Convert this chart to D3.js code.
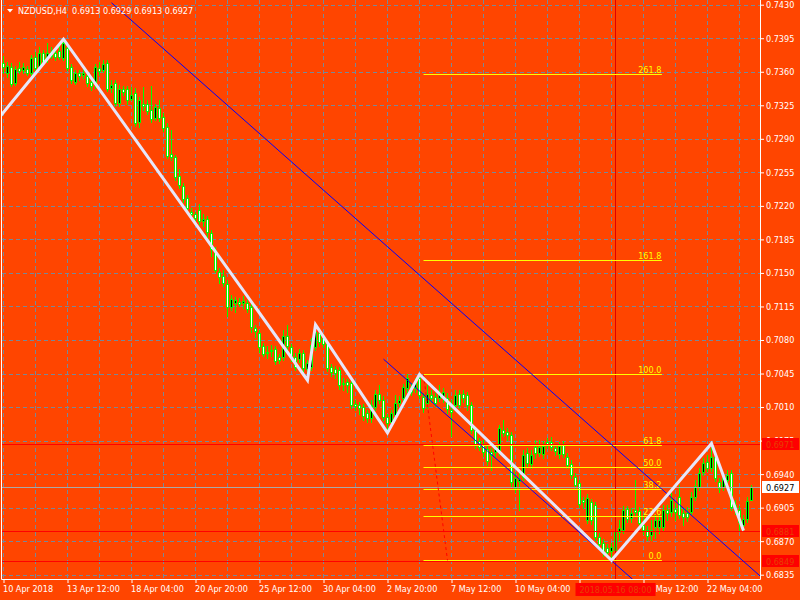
<!DOCTYPE html>
<html>
<head>
<meta charset="utf-8">
<script src="https://cdn.jsdelivr.net/npm/d3@7"></script>
<style>
html, body { margin: 0; padding: 0; background: #FF4500; }
svg { display: block; }
text { font-family: "DejaVu Sans Condensed", "DejaVu Sans", sans-serif; font-size: 9px; }
</style>
</head>
<body>
<svg id="chart" width="800" height="600"></svg>
<script>
// NZDUSD H4 bars, [open, high, low, close], first bar = 10 Apr 2018 20:00
var bars = [
[0.7369,0.7376,0.7359,0.7365],[0.7359,0.7370,0.7355,0.7366],[0.7365,0.7369,0.7345,0.7347],[0.7348,0.7366,0.7346,0.7363],
[0.7364,0.7370,0.7359,0.7361],[0.7362,0.7369,0.7359,0.7365],[0.7363,0.7366,0.7357,0.7359],[0.7359,0.7378,0.7357,0.7374],
[0.7375,0.7381,0.7362,0.7364],[0.7365,0.7386,0.7362,0.7380],[0.7380,0.7383,0.7368,0.7370],[0.7375,0.7390,0.7370,0.7380],
[0.7376,0.7386,0.7374,0.7381],[0.7380,0.7383,0.7372,0.7375],[0.7382,0.7387,0.7373,0.7375],[0.7374,0.7394,0.7372,0.7390],
[0.7385,0.7388,0.7362,0.7364],[0.7365,0.7368,0.7348,0.7351],[0.7349,0.7362,0.7347,0.7359],[0.7359,0.7362,0.7351,0.7356],
[0.7357,0.7364,0.7354,0.7359],[0.7356,0.7360,0.7345,0.7348],[0.7349,0.7356,0.7341,0.7345],[0.7349,0.7368,0.7343,0.7365],
[0.7364,0.7370,0.7357,0.7361],[0.7362,0.7372,0.7360,0.7368],[0.7369,0.7372,0.7340,0.7342],[0.7343,0.7351,0.7339,0.7346],
[0.7348,0.7351,0.7324,0.7327],[0.7327,0.7346,0.7324,0.7342],[0.7342,0.7345,0.7336,0.7339],[0.7342,0.7345,0.7326,0.7330],
[0.7332,0.7344,0.7330,0.7336],[0.7338,0.7343,0.7303,0.7307],[0.7308,0.7334,0.7302,0.7331],[0.7326,0.7344,0.7320,0.7324],
[0.7326,0.7331,0.7316,0.7319],[0.7320,0.7345,0.7308,0.7311],[0.7312,0.7326,0.7310,0.7323],[0.7322,0.7331,0.7309,0.7312],
[0.7313,0.7317,0.7298,0.7301],[0.7302,0.7307,0.7270,0.7272],[0.7274,0.7299,0.7268,0.7271],[0.7271,0.7273,0.7247,0.7250],
[0.7251,0.7258,0.7239,0.7242],[0.7241,0.7244,0.7224,0.7227],[0.7228,0.7231,0.7215,0.7218],[0.7214,0.7218,0.7207,0.7211],
[0.7211,0.7214,0.7204,0.7207],[0.7216,0.7222,0.7201,0.7204],[0.7204,0.7212,0.7199,0.7206],[0.7206,0.7209,0.7188,0.7193],
[0.7192,0.7195,0.7168,0.7175],[0.7174,0.7177,0.7151,0.7153],[0.7151,0.7155,0.7140,0.7146],[0.7147,0.7153,0.7136,0.7140],
[0.7138,0.7143,0.7105,0.7114],[0.7114,0.7127,0.7111,0.7123],[0.7119,0.7125,0.7109,0.7122],[0.7120,0.7124,0.7116,0.7118],
[0.7119,0.7126,0.7113,0.7121],[0.7119,0.7122,0.7109,0.7112],[0.7114,0.7118,0.7088,0.7094],[0.7093,0.7096,0.7083,0.7089],
[0.7087,0.7090,0.7067,0.7073],[0.7074,0.7077,0.7063,0.7065],[0.7066,0.7074,0.7061,0.7067],[0.7070,0.7075,0.7063,0.7068],
[0.7071,0.7074,0.7055,0.7058],[0.7062,0.7065,0.7056,0.7059],[0.7062,0.7090,0.7059,0.7084],[0.7084,0.7096,0.7071,0.7074],
[0.7073,0.7076,0.7058,0.7062],[0.7062,0.7066,0.7049,0.7052],[0.7060,0.7071,0.7057,0.7066],[0.7066,0.7070,0.7047,0.7051],
[0.7050,0.7059,0.7038,0.7056],[0.7052,0.7082,0.7049,0.7075],[0.7073,0.7096,0.7070,0.7088],[0.7087,0.7090,0.7074,0.7078],
[0.7082,0.7086,0.7073,0.7076],[0.7077,0.7080,0.7048,0.7051],[0.7052,0.7055,0.7042,0.7047],[0.7050,0.7053,0.7040,0.7046],
[0.7049,0.7052,0.7029,0.7033],[0.7035,0.7040,0.7028,0.7034],[0.7036,0.7039,0.7026,0.7033],[0.7035,0.7038,0.7009,0.7012],
[0.7013,0.7017,0.7007,0.7011],[0.7012,0.7015,0.7003,0.7009],[0.7010,0.7013,0.6997,0.7001],[0.7004,0.7007,0.6994,0.6999],
[0.6999,0.7017,0.6994,0.7012],[0.7010,0.7028,0.7007,0.7024],[0.7024,0.7033,0.7014,0.7017],[0.7017,0.7022,0.6997,0.7000],
[0.7000,0.7003,0.6983,0.6993],[0.6994,0.7007,0.6991,0.7004],[0.7002,0.7023,0.6999,0.7014],[0.7014,0.7022,0.7011,0.7017],
[0.7019,0.7034,0.7016,0.7031],[0.7030,0.7044,0.7026,0.7040],[0.7031,0.7035,0.7023,0.7026],[0.7030,0.7040,0.7026,0.7036],
[0.7040,0.7044,0.7019,0.7023],[0.7020,0.7025,0.7005,0.7009],[0.7014,0.7033,0.7009,0.7024],[0.7023,0.7028,0.7015,0.7019],
[0.7020,0.7025,0.7011,0.7014],[0.7019,0.7033,0.7016,0.7024],[0.7019,0.7030,0.7015,0.7026],[0.7019,0.7025,0.7004,0.7008],
[0.7007,0.7017,0.6980,0.7005],[0.7012,0.7028,0.7007,0.7023],[0.7024,0.7028,0.7009,0.7012],[0.7024,0.7028,0.7015,0.7019],
[0.7023,0.7026,0.7007,0.7012],[0.7012,0.7015,0.6983,0.6986],[0.6986,0.6989,0.6967,0.6970],[0.6975,0.6978,0.6965,0.6968],
[0.6970,0.6976,0.6959,0.6963],[0.6966,0.6970,0.6950,0.6954],[0.6963,0.6967,0.6944,0.6960],[0.6963,0.6971,0.6957,0.6967],
[0.6965,0.6991,0.6960,0.6988],[0.6986,0.6997,0.6980,0.6983],[0.6984,0.6988,0.6976,0.6981],[0.6981,0.6984,0.6928,0.6932],
[0.6925,0.6942,0.6921,0.6936],[0.6933,0.6944,0.6903,0.6935],[0.6937,0.6965,0.6934,0.6960],[0.6962,0.6967,0.6948,0.6952],
[0.6951,0.6965,0.6946,0.6960],[0.6968,0.6976,0.6957,0.6962],[0.6962,0.6976,0.6959,0.6968],[0.6961,0.6975,0.6957,0.6969],
[0.6974,0.6978,0.6967,0.6970],[0.6973,0.6979,0.6965,0.6968],[0.6967,0.6971,0.6960,0.6964],[0.6961,0.6974,0.6957,0.6969],
[0.6970,0.6975,0.6958,0.6961],[0.6958,0.6962,0.6946,0.6950],[0.6951,0.6955,0.6936,0.6939],[0.6937,0.6941,0.6925,0.6929],
[0.6931,0.6934,0.6906,0.6909],[0.6913,0.6916,0.6905,0.6911],[0.6892,0.6919,0.6889,0.6915],[0.6911,0.6914,0.6888,0.6892],
[0.6908,0.6911,0.6871,0.6874],[0.6874,0.6879,0.6863,0.6867],[0.6868,0.6872,0.6855,0.6858],[0.6863,0.6867,0.6855,0.6859],
[0.6860,0.6868,0.6850,0.6864],[0.6861,0.6884,0.6858,0.6880],[0.6880,0.6892,0.6871,0.6884],[0.6882,0.6907,0.6879,0.6903],
[0.6904,0.6907,0.6890,0.6893],[0.6894,0.6905,0.6890,0.6899],[0.6903,0.6934,0.6896,0.6900],[0.6901,0.6906,0.6885,0.6889],
[0.6887,0.6897,0.6877,0.6882],[0.6882,0.6886,0.6871,0.6875],[0.6876,0.6892,0.6871,0.6882],[0.6885,0.6897,0.6873,0.6892],
[0.6885,0.6898,0.6879,0.6892],[0.6885,0.6908,0.6882,0.6903],[0.6903,0.6908,0.6892,0.6899],[0.6900,0.6920,0.6896,0.6913],
[0.6904,0.6910,0.6892,0.6900],[0.6916,0.6929,0.6894,0.6897],[0.6899,0.6905,0.6887,0.6895],[0.6899,0.6906,0.6891,0.6895],
[0.6900,0.6921,0.6897,0.6916],[0.6916,0.6934,0.6913,0.6928],[0.6927,0.6946,0.6923,0.6941],[0.6942,0.6957,0.6939,0.6952],
[0.6953,0.6960,0.6943,0.6946],[0.6946,0.6972,0.6943,0.6958],[0.6958,0.6963,0.6933,0.6936],[0.6932,0.6936,0.6921,0.6926],
[0.6927,0.6941,0.6923,0.6936],[0.6934,0.6944,0.6930,0.6939],[0.6941,0.6944,0.6903,0.6906],[0.6908,0.6913,0.6898,0.6903],
[0.6903,0.6907,0.6882,0.6890],[0.6887,0.6897,0.6881,0.6893],[0.6893,0.6916,0.6890,0.6912],[0.6913,0.6929,0.6913,0.6927]
];

var priceTicks = [0.6835,0.6870,0.6905,0.6940,0.6975,0.7010,0.7045,0.7080,0.7115,0.7150,
                  0.7185,0.7220,0.7255,0.7290,0.7325,0.7360,0.7395,0.7430];
var timeTickBars = [0,16,32,48,64,80,96,112,128,144,160,176];
var timeTickLabels = ["10 Apr 2018","13 Apr 12:00","18 Apr 04:00","20 Apr 20:00","25 Apr 12:00","30 Apr 04:00",
                      "2 May 20:00","7 May 12:00","10 May 04:00","14 May 20:00","17 May 12:00","22 May 04:00"];
var gridBars = [0,8,16,24,32,40,48,56,64,72,80,88,96,104,112,120,128,136,144,152,160,168,176,184];

// zigzag turning points (bar index, price)
var zigzag = [[-8,0.7277],[15,0.7394],[76,0.7038],[78,0.7096],[96,0.6983],[104,0.7044],[152,0.6850],[177,0.6972],[185,0.6881]];
// parallel channel lines: two anchor points each
var channelA = [[27,0.7432],[190,0.68305]];
var channelB = [[95,0.7060],[158,0.68275]];
// fibonacci retracement
var fibHigh = 0.7044, fibLow = 0.6850;
var fibFrom = 105, fibTo = 164.6, fibAnchor2 = 111;
var fibLevels = [0, 23.6, 38.2, 50.0, 61.8, 100.0, 161.8, 261.8];
// horizontal lines and the bid
var redLevels = [0.6971, 0.6881, 0.6849];
var bid = 0.6927;
var vLineBar = 153, vLineLabel = "2018.05.16 08:00";
var title = "NZDUSD,H4  0.6913 0.6929 0.6913 0.6927";

var width = 800, height = 600;
var plot = {left: 2, top: 0, right: 760, bottom: 579};
var axisFont = '"DejaVu Sans Condensed", "DejaVu Sans", sans-serif';

var svg = d3.select('#chart');
svg.append('rect').attr('width', width).attr('height', height).attr('fill', '#FF4500');

var xScale = d3.scaleLinear().domain([0, 1]).range([3.5, 7.5]);
var yScale = d3.scaleLinear().domain([0.6835, 0.7430]).range([574.7, 4.7]);
function yc(v) { return Math.round(yScale(v)) + 0.5; }

svg.append('clipPath').attr('id', 'plotclip')
   .append('rect')
   .attr('x', plot.left).attr('y', plot.top)
   .attr('width', plot.right - plot.left).attr('height', plot.bottom - plot.top);

var grid_g = svg.append('g').attr('clip-path', 'url(#plotclip)');
var candle_g = svg.append('g').attr('clip-path', 'url(#plotclip)');
var obj_g = svg.append('g').attr('clip-path', 'url(#plotclip)');

// grid
grid_g.selectAll('line.h').data(priceTicks).enter().append('line')
      .attr('x1', plot.left).attr('x2', plot.right)
      .attr('y1', function(d){ return yc(d); }).attr('y2', function(d){ return yc(d); })
      .attr('stroke', '#778899').attr('stroke-dasharray', '4,3');
grid_g.selectAll('line.v').data(gridBars).enter().append('line')
      .attr('x1', function(d){ return xScale(d); }).attr('x2', function(d){ return xScale(d); })
      .attr('y1', plot.top).attr('y2', plot.bottom)
      .attr('stroke', '#778899').attr('stroke-dasharray', '4,3');

// candles
var candles = candle_g.selectAll('g.bar').data(bars).enter().append('g');
candles.append('line')
       .attr('x1', function(d, i){ return xScale(i); }).attr('x2', function(d, i){ return xScale(i); })
       .attr('y1', function(d){ return Math.round(yScale(d[1])); })
       .attr('y2', function(d){ return Math.round(yScale(d[2])) + 1; })
       .attr('stroke', '#00FF00');
candles.append('rect')
       .attr('x', function(d, i){ return xScale(i) - 1; })
       .attr('y', function(d){ return yc(Math.max(d[0], d[3])); })
       .attr('width', 2)
       .attr('height', function(d){ return Math.max(0, yc(Math.min(d[0], d[3])) - yc(Math.max(d[0], d[3]))); })
       .attr('fill', function(d){ return d[3] < d[0] ? '#FFFFFF' : '#000000'; })
       .attr('stroke', '#00FF00');

// horizontal levels
obj_g.selectAll('line.red').data(redLevels).enter().append('line')
     .attr('x1', plot.left).attr('x2', plot.right)
     .attr('y1', function(d){ return yc(d); }).attr('y2', function(d){ return yc(d); })
     .attr('stroke', '#FF0000');
obj_g.append('line')
     .attr('x1', plot.left).attr('x2', plot.right)
     .attr('y1', yc(bid)).attr('y2', yc(bid))
     .attr('stroke', '#A8A8A8');
obj_g.append('line')
     .attr('x1', xScale(vLineBar)).attr('x2', xScale(vLineBar))
     .attr('y1', plot.top).attr('y2', plot.bottom)
     .attr('stroke', '#E00000');

// fibonacci
var fibRange = fibHigh - fibLow;
obj_g.selectAll('line.fib').data(fibLevels).enter().append('line')
     .attr('x1', xScale(fibFrom)).attr('x2', xScale(fibTo))
     .attr('y1', function(d){ return yc(fibLow + fibRange * d / 100); })
     .attr('y2', function(d){ return yc(fibLow + fibRange * d / 100); })
     .attr('stroke', '#FFFF00');
obj_g.selectAll('text.fib').data(fibLevels).enter().append('text')
     .attr('x', xScale(fibTo) - 0.5)
     .attr('y', function(d){ return yc(fibLow + fibRange * d / 100) - 1.5; })
     .attr('text-anchor', 'end')
     .attr('fill', '#FFFF00')
     .text(function(d){ return d.toFixed(1); });
obj_g.append('line')
     .attr('x1', xScale(fibFrom)).attr('y1', yScale(fibHigh))
     .attr('x2', xScale(fibAnchor2)).attr('y2', yScale(fibLow))
     .attr('stroke', '#FF0000').attr('stroke-dasharray', '3,3');

// channel lines
var line = d3.line().x(function(d){ return xScale(d[0]); }).y(function(d){ return yScale(d[1]); });
obj_g.append('path').datum(channelA).attr('d', line).attr('fill', 'none').attr('stroke', '#0000FF');
obj_g.append('path').datum(channelB).attr('d', line).attr('fill', 'none').attr('stroke', '#0000FF');

// zigzag
obj_g.append('path').datum(zigzag).attr('d', line)
     .attr('fill', 'none').attr('stroke', '#E6E6FA').attr('stroke-width', 3);

// frame
svg.append('line').attr('x1', 1.5).attr('x2', 1.5).attr('y1', 0).attr('y2', plot.bottom + 0.5).attr('stroke', '#FFFFFF');
svg.append('line').attr('x1', plot.right + 0.5).attr('x2', plot.right + 0.5).attr('y1', 0).attr('y2', plot.bottom + 0.5).attr('stroke', '#FFFFFF');
svg.append('line').attr('x1', 1.5).attr('x2', plot.right + 0.5).attr('y1', plot.bottom + 0.5).attr('y2', plot.bottom + 0.5).attr('stroke', '#FFFFFF');

// price axis
var yAxis = d3.axisRight(yScale).tickValues(priceTicks).tickFormat(d3.format('.4f')).tickSize(4);
var yAxis_g = svg.append('g').attr('transform', 'translate(' + plot.right + ',0)').call(yAxis);
yAxis_g.select('.domain').remove();
yAxis_g.selectAll('line').attr('stroke', '#FFFFFF');
yAxis_g.selectAll('text').attr('fill', '#FFFFFF').attr('x', 6)
       .style('font-family', axisFont).style('font-size', '9px');

// time axis
var xAxis = d3.axisBottom(xScale).tickValues(timeTickBars)
              .tickFormat(function(d, k){ return timeTickLabels[k]; }).tickSize(4);
var xAxis_g = svg.append('g').attr('transform', 'translate(0,' + plot.bottom + ')').call(xAxis);
xAxis_g.select('.domain').remove();
xAxis_g.selectAll('line').attr('stroke', '#FFFFFF');
xAxis_g.selectAll('text').attr('fill', '#FFFFFF').attr('text-anchor', 'start')
       .attr('x', -1).attr('y', 13).attr('dy', null)
       .style('font-family', axisFont).style('font-size', '9px');

// price labels on the axis
function priceBox(v, bg, fg) {
    var g = svg.append('g').attr('transform', 'translate(0,' + yc(v) + ')');
    g.append('rect').attr('x', 762).attr('y', -6.5).attr('width', 37).attr('height', 12).attr('fill', bg);
    g.append('text').attr('x', 766).attr('y', 3).attr('fill', fg).text(d3.format('.4f')(v));
}
redLevels.forEach(function(v){ priceBox(v, '#FF0000', '#E84000'); });
priceBox(bid, '#FFFFFF', '#000000');

// time label of the vertical line
var vx = xScale(vLineBar);
svg.append('rect').attr('x', vx - 40).attr('y', 583).attr('width', 80).attr('height', 13).attr('fill', '#FF0000');
svg.append('text').attr('x', vx).attr('y', 593).attr('text-anchor', 'middle').attr('fill', '#E84000').text(vLineLabel);

// title
svg.append('path').attr('d', 'M7,9 L13,9 L10,12.5 Z').attr('fill', '#FFFFFF');
svg.append('text').attr('x', 18).attr('y', 13.5).attr('fill', '#FFFFFF')
   .style('white-space', 'pre').text(title);
</script>
</body>
</html>
